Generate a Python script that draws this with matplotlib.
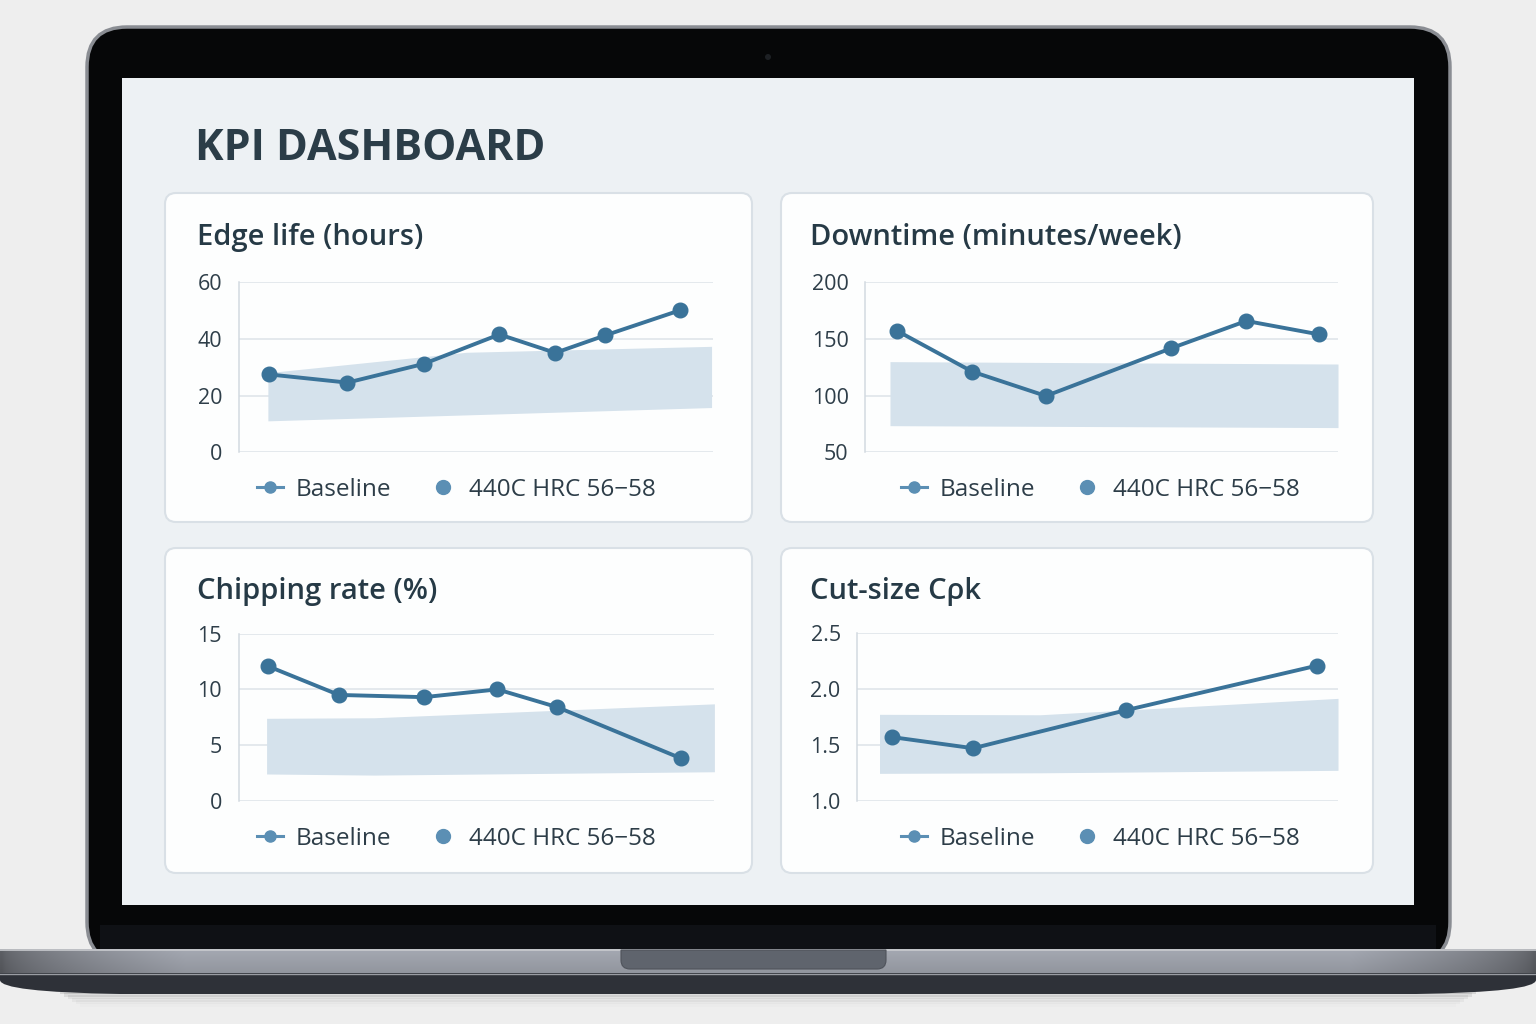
import matplotlib
matplotlib.use("Agg")
import matplotlib.pyplot as plt
from matplotlib.patches import FancyBboxPatch, Rectangle, PathPatch, Circle
from matplotlib.lines import Line2D
from matplotlib.path import Path
import numpy as np

# ---------------- data ----------------
legend_labels = ["Baseline", "440C HRC 56\u221258"]

edge_title = "Edge life (hours)"
edge_x = [6.3, 22.9, 39.0, 55.0, 66.8, 77.4, 93.1]
edge_y = [27.5, 24.6, 31.2, 41.6, 35.1, 41.3, 50.1]
edge_band_x = [6.1, 48.0, 99.8]
edge_band_lo = [11.1, 13.2, 15.8]
edge_band_hi = [28.1, 35.3, 37.4]
edge_ticks = [0, 20, 40, 60]

down_title = "Downtime (minutes/week)"
down_x = [6.6, 22.6, 38.2, 64.7, 80.6, 95.9]
down_y = [157.4, 121.2, 99.7, 141.8, 165.9, 154.1]
down_band_x = [5.2, 100.0]
down_band_lo = [73.5, 71.8]
down_band_hi = [130.0, 127.9]
down_ticks = [50, 100, 150, 200]

chip_title = "Chipping rate (%)"
chip_x = [6.1, 21.1, 39.0, 54.4, 67.0, 93.0]
chip_y = [12.1, 9.5, 9.3, 10.0, 8.4, 3.8]
chip_band_x = [5.9, 28.5, 100.0]
chip_band_lo = [2.4, 2.3, 2.6]
chip_band_hi = [7.4, 7.45, 8.7]
chip_ticks = [0, 5, 10, 15]

cpk_title = "Cut-size C\u03c1k"
cpk_x = [7.2, 24.1, 55.8, 95.6]
cpk_y = [1.57, 1.47, 1.81, 2.21]
cpk_band_x = [4.6, 38.0, 100.0]
cpk_band_lo = [1.245, 1.25, 1.272]
cpk_band_hi = [1.774, 1.77, 1.917]
cpk_ticks = [1.0, 1.5, 2.0, 2.5]

dashboard_title = "KPI DASHBOARD"

# ---------------- styles ----------------
W, H = 1536, 1024
FONT = ["Open Sans", "Noto Sans", "DejaVu Sans"]
plt.rcParams["font.family"] = FONT
TXT = "#263a46"
LINE = "#3a7399"
LEG = "#5b8fb4"
BAND = "#d5e2ec"
GRID = "#dde3e8"

fig = plt.figure(figsize=(W / 100, H / 100), dpi=100)
fig.patch.set_facecolor("#eeeeee")
bg = fig.add_axes([0, 0, 1, 1])
bg.set_xlim(0, W)
bg.set_ylim(H, 0)
bg.axis("off")


def rb_path(x0, x1, y0, y1, r):
    verts = [(x0, y0), (x1, y0), (x1, y1 - r), (x1, y1), (x1 - r, y1),
             (x0 + r, y1), (x0, y1), (x0, y1 - r), (x0, y0)]
    codes = [Path.MOVETO, Path.LINETO, Path.LINETO, Path.CURVE3, Path.CURVE3,
             Path.LINETO, Path.CURVE3, Path.CURVE3, Path.CLOSEPOLY]
    return Path(verts, codes)


# shadow under laptop
for i, a in enumerate([0.10, 0.08, 0.06, 0.04, 0.025, 0.012]):
    bg.add_patch(Rectangle((60 + i * 4, 990 + i * 2.5), W - 120 - i * 8, 4,
                           fc="#000000", alpha=a, lw=0, zorder=0))

# bezel
bg.add_patch(FancyBboxPatch((87, 27), 1363, 935, boxstyle="round,pad=0,rounding_size=40",
                            fc="#060708", ec="#8a8d93", lw=2.5, zorder=1))
bg.add_patch(Rectangle((100, 925), 1336, 24, fc="#0f1115", lw=0, zorder=1.1))
bg.add_patch(Circle((768, 57), 3, fc="#1d2024", lw=0, zorder=1.2))
# screen
bg.add_patch(Rectangle((122, 78), 1292, 827, fc="#edf1f4", lw=0, zorder=1.5))

# base top strip gradient
xs = np.linspace(0, 1, 400)
prof = 0.52 + 0.40 * np.clip(np.minimum(xs, 1 - xs) / 0.12, 0, 1) ** 0.6
rows = np.linspace(0, 1, 24)
vert = 1.08 - 0.12 * rows
img = np.clip(vert[:, None, None] * prof[None, :, None] * np.array([0.60, 0.615, 0.65])[None, None, :] * 1.08, 0, 1)
bg.imshow(img, extent=(0, W, 973, 949), aspect="auto", zorder=2, interpolation="bilinear")
bg.set_xlim(0, W)
bg.set_ylim(H, 0)
bg.plot([0, W], [949.5, 949.5], color="#c9cbcf", lw=1.2, zorder=2.2)
# notch
bg.add_patch(PathPatch(rb_path(621, 886, 950, 969, 9), fc="#5f646d", ec="#4f535b", lw=0.8, zorder=2.3))
# lower base
lower = Path([(0, 973), (W, 973), (W, 980), (W, 992), (W - 120, 994), (120, 994), (0, 992), (0, 980), (0, 973)],
             [Path.MOVETO, Path.LINETO, Path.LINETO, Path.CURVE3, Path.CURVE3, Path.LINETO,
              Path.CURVE3, Path.CURVE3, Path.CLOSEPOLY])
bg.add_patch(PathPatch(lower, fc="#2e3138", lw=0, zorder=2))
bg.plot([0, W], [973.5, 973.5], color="#9a9da3", lw=1.0, zorder=2.2)

# dashboard title
bg.text(195, 159.5, dashboard_title, fontsize=31, fontweight="bold", color="#2b3d48",
        va="baseline", ha="left", zorder=3)

# cards
cards = [(165, 193, 752, 522), (781, 193, 1373, 522), (165, 548, 752, 873), (781, 548, 1373, 873)]
for (l, t, r, b) in cards:
    bg.add_patch(FancyBboxPatch((l, t), r - l, b - t, boxstyle="round,pad=0,rounding_size=11",
                                fc="#fdfefe", ec="#d9e0e6", lw=1.5, zorder=2.5))


def frac(l, t, r, b):
    return [l / W, 1 - b / H, (r - l) / W, (b - t) / H]


def chart(rect, title, title_xy, x, y, bx, blo, bhi, ticks, fmt, leg_xy):
    ax = fig.add_axes(frac(*rect))
    ax.patch.set_alpha(0)
    ax.fill_between(bx, blo, bhi, color=BAND, lw=0, zorder=1)
    ax.plot(x, y, color=LINE, lw=2.8, marker="o", ms=10.5, zorder=3, clip_on=False)
    ax.set_xlim(0, 100)
    ax.set_ylim(ticks[0], ticks[-1])
    ax.set_yticks(ticks)
    ax.set_yticklabels([fmt.format(v) for v in ticks])
    ax.set_xticks([])
    ax.grid(axis="y", color=GRID, lw=1.1)
    ax.set_axisbelow(True)
    for s in ["top", "right", "bottom"]:
        ax.spines[s].set_visible(False)
    ax.spines["left"].set_color("#d3dae0")
    ax.spines["left"].set_linewidth(1.1)
    ax.tick_params(axis="y", length=0, pad=12, labelsize=15.5, labelcolor="#2e3e49")
    bg.text(title_xy[0], title_xy[1], title, fontsize=21, fontweight="semibold", color=TXT,
            va="baseline", ha="left", zorder=3)
    h1 = Line2D([], [], color=LEG, lw=2.2, marker="o", ms=8)
    h2 = Line2D([], [], color=LEG, lw=0, marker="o", ms=10)
    ax.legend([h1, h2], legend_labels, loc="center left", bbox_to_anchor=leg_xy,
              bbox_transform=bg.transData, ncol=2, frameon=False, fontsize=17.5,
              handlelength=1.07, handletextpad=0.53, columnspacing=1.6, borderpad=0,
              borderaxespad=0, labelcolor="#2d3d48")
    return ax


chart((239, 282.3, 712.5, 452.3), edge_title, (197, 245), edge_x, edge_y,
      edge_band_x, edge_band_lo, edge_band_hi, edge_ticks, "{:d}", (257, 490))
chart((865.4, 282.3, 1338, 452.3), down_title, (810, 245), down_x, down_y,
      down_band_x, down_band_lo, down_band_hi, down_ticks, "{:d}", (901, 490))
chart((238.5, 633.7, 714.4, 800.7), chip_title, (197, 599), chip_x, chip_y,
      chip_band_x, chip_band_lo, chip_band_hi, chip_ticks, "{:d}", (257, 839))
chart((857.4, 633.3, 1338, 800.7), cpk_title, (810, 599), cpk_x, cpk_y,
      cpk_band_x, cpk_band_lo, cpk_band_hi, cpk_ticks, "{:.1f}", (901, 839))

fig.savefig("out.png", dpi=100, facecolor=fig.get_facecolor())
